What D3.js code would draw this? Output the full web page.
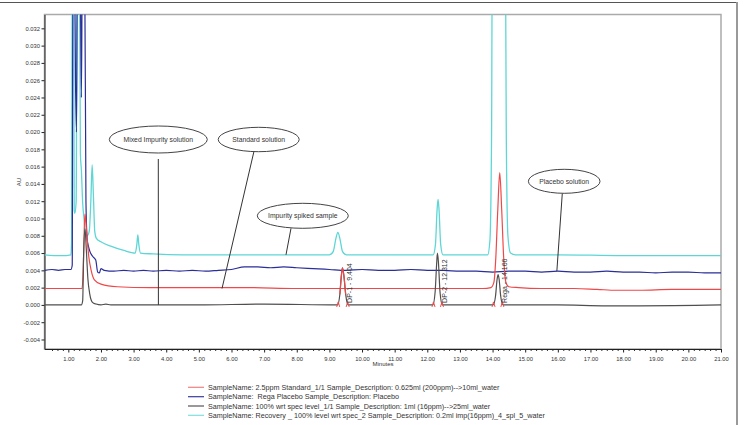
<!DOCTYPE html>
<html><head><meta charset="utf-8">
<script src="https://cdn.jsdelivr.net/npm/d3@7"></script>
<style>body{margin:0;background:#fff;} svg{display:block;font-family:"Liberation Sans",Arial,sans-serif;}</style>
</head><body><svg id="c" width="745" height="425"></svg>
<script>
// ---------- data ----------
const xTickValues = [1,2,3,4,5,6,7,8,9,10,11,12,13,14,15,16,17,18,19,20,21];
const yTickValues = [-0.004,-0.002,0,0.002,0.004,0.006,0.008,0.010,0.012,0.014,0.016,0.018,0.020,0.022,0.024,0.026,0.028,0.030,0.032];

const seriesNames = [
  "SampleName: 2.5ppm Standard_1/1 Sample_Description: 0.625ml (200ppm)-->10ml_water",
  "SampleName:  Rega Placebo Sample_Description: Placebo",
  "SampleName: 100% wrt spec level_1/1 Sample_Description: 1ml (16ppm)-->25ml_water",
  "SampleName: Recovery _ 100% level wrt spec_2 Sample_Description: 0.2ml imp(16ppm)_4_spl_5_water"
];

// [minutes, AU]
const standardSeries = [
  [0.27,0.0019],[0.8,0.0019],[1.2,0.0019],[1.42,0.0019],[1.46,0.0045],[1.49,0.0090],[1.51,0.0105],[1.54,0.0095],
  [1.58,0.0075],[1.63,0.0055],[1.70,0.0040],[1.80,0.0029],[2.0,0.0024],[2.5,0.0021],[3.5,0.0020],[5,0.0020],
  [6.5,0.0020],[8,0.0019],[9.5,0.0019],[11,0.0019],[12.5,0.0019],[13.7,0.0019],[13.95,0.0020],[14.04,0.0026],
  [14.10,0.0055],[14.16,0.0110],[14.22,0.0153],[14.28,0.0110],[14.34,0.0055],[14.41,0.0026],[14.5,0.0021],
  [14.8,0.0020],[15.5,0.0019],[16.5,0.0019],[17.2,0.0018],[17.8,0.0017],[18.5,0.0017],[19.5,0.0018],[21,0.0018]
];

const placeboSeries = [
  [0.27,0.0040],[0.5,0.0041],[0.7,0.0040],[0.9,0.0041],[1.08,0.0041],[1.12,0.0046],[1.14,0.040],[1.19,0.040],
  [1.22,0.026],[1.25,0.020],[1.28,0.040],[1.36,0.040],[1.40,0.024],[1.43,0.040],[1.50,0.040],[1.54,0.012],
  [1.58,0.0075],[1.61,0.0069],[1.66,0.0062],[1.75,0.0056],[1.84,0.0052],[1.90,0.0038],[1.95,0.0037],[2.0,0.0042],
  [2.1,0.0040],[2.4,0.0039],[2.7,0.0040],[3.0,0.0039],[3.3,0.0040],[3.6,0.0039],[4.0,0.0040],[4.4,0.0039],
  [4.8,0.0040],[5.2,0.0039],[5.6,0.0040],[6.0,0.0041],[6.4,0.0044],[6.8,0.0044],[7.2,0.0043],[7.6,0.0044],
  [8.0,0.0043],[8.5,0.0042],[9.0,0.0041],[9.5,0.0040],[10.0,0.0041],[10.5,0.0040],[11,0.0040],[11.5,0.0041],
  [12,0.0040],[12.5,0.0040],[13,0.0039],[13.5,0.0039],[14,0.0038],[14.5,0.0039],[15,0.0039],[15.5,0.0038],
  [16,0.0039],[16.5,0.0038],[17,0.0038],[17.5,0.0039],[18,0.0038],[18.5,0.0038],[19,0.0037],[19.5,0.0038],
  [20,0.0038],[20.5,0.0037],[21,0.0037]
];

const specLevelSeries = [
  [0.27,0.0],[1.0,0.0],[1.40,0.0],[1.44,0.0005],[1.47,0.0060],[1.51,0.0088],[1.55,0.0065],[1.60,0.0030],
  [1.66,0.0012],[1.74,0.0003],[1.85,0.0001],[2.0,0.0],[2.15,0.0001],[2.3,0.0],[5,0.0],[7,0.0001],[9.25,0.0],
  [9.32,0.0012],[9.37,0.0035],[9.40,0.0043],[9.44,0.0035],[9.50,0.0012],[9.58,0.0],[12.17,0.0],[12.24,0.0015],
  [12.29,0.0050],[12.31,0.0060],[12.34,0.0050],[12.39,0.0015],[12.46,0.0],[14.02,0.0],[14.09,0.0010],
  [14.14,0.0030],[14.17,0.0035],[14.20,0.0030],[14.25,0.0010],[14.32,0.0],[16,0.0],[17.5,-0.0001],
  [18.5,-0.0001],[21,0.0]
];

const recoverySeries = [
  [0.27,0.0058],[0.8,0.0057],[1.08,0.0058],[1.10,0.0075],[1.12,0.040],[1.16,0.040],[1.18,0.0110],[1.20,0.0106],
  [1.24,0.0120],[1.27,0.040],[1.34,0.040],[1.37,0.0175],[1.40,0.0156],[1.44,0.0118],[1.48,0.0100],[1.52,0.0085],
  [1.58,0.0080],[1.64,0.0085],[1.69,0.0120],[1.73,0.0162],[1.77,0.0125],[1.81,0.0085],[1.86,0.0077],[2.0,0.0073],
  [2.3,0.0068],[2.7,0.0063],[3.05,0.0060],[3.10,0.0070],[3.13,0.0081],[3.16,0.0070],[3.21,0.0060],[3.6,0.0059],
  [4.5,0.0058],[6,0.0058],[8,0.0058],[9.0,0.0058],[9.12,0.0062],[9.20,0.0077],[9.26,0.0084],[9.32,0.0077],
  [9.40,0.0062],[9.52,0.0058],[12.18,0.0058],[12.25,0.0070],[12.30,0.0110],[12.33,0.0122],[12.36,0.0110],
  [12.41,0.0070],[12.48,0.0058],[13.85,0.0058],[13.92,0.0075],[13.97,0.020],[14.0,0.05],[14.38,0.05],
  [14.42,0.020],[14.47,0.0080],[14.55,0.0060],[14.7,0.0058],[16,0.0058],[18,0.0057],[21,0.0057]
];

const peakNames = ["DP-1 - 9.404","DP-2 - 12.312","Rega - 14.166"];
const peakTimes = [9.404, 12.312, 14.166];
const peakStarts = [9.27, 12.19, 14.03];
const peakEnds = [9.56, 12.45, 14.30];

const calloutTexts = ["Mixed Impurity solution","Standard solution","Impurity spiked sample","Placebo solution"];
const calloutTargets = [[3.76,0.0],[5.71,0.0019],[7.67,0.0058],[15.97,0.0039]];

// ---------- layout ----------
const svg = d3.select("#c");
const L = 44.5, R = 721, T = 14.5, B = 349;
const x = d3.scaleLinear().domain([0.27, 21.0]).range([L, R]);
const y = d3.scaleLinear().domain([-0.0051, 0.0336]).range([B, T]);

// outer frame
svg.append("line").attr("x1",0).attr("x2",737).attr("y1",2.5).attr("y2",2.5).attr("stroke","#555").attr("stroke-width",1);
svg.append("line").attr("x1",737).attr("x2",737).attr("y1",2).attr("y2",425).attr("stroke","#999").attr("stroke-width",2);

// plot frame
svg.append("rect").attr("x",L).attr("y",T).attr("width",R-L).attr("height",B-T)
  .attr("fill","none").attr("stroke","#aaa").attr("stroke-width",1.5);

svg.append("clipPath").attr("id","clip").append("rect").attr("x",L).attr("y",T).attr("width",R-L).attr("height",B-T);

// axes
const minorTicks = d3.range(0.5, 21.0001, 1/6).filter(v => Math.abs(v - Math.round(v)) > 0.01);
svg.append("g").attr("transform",`translate(0,${B})`)
  .call(d3.axisBottom(x).tickValues(minorTicks).tickSize(2).tickFormat(""))
  .call(g => g.select(".domain").remove())
  .call(g => g.selectAll("line").attr("stroke","#333"));
const xAx = svg.append("g").attr("transform",`translate(0,${B})`)
  .call(d3.axisBottom(x).tickValues(xTickValues).tickSize(3.5).tickSizeOuter(0).tickFormat(d => d.toFixed(2)));
xAx.select(".domain").attr("stroke","#222");
xAx.selectAll("line").attr("stroke","#222");
xAx.selectAll("text").attr("font-size",5.8).attr("fill","#333").attr("dy","0.9em")
  .attr("font-family","Liberation Sans, Arial, sans-serif");

const yAx = svg.append("g").attr("transform",`translate(${L},0)`)
  .call(d3.axisLeft(y).tickValues(yTickValues).tickSize(3).tickSizeOuter(0).tickFormat(d => d.toFixed(3)));
yAx.select(".domain").attr("stroke","#222");
yAx.selectAll("line").attr("stroke","#222");
yAx.selectAll("text").attr("font-size",5.8).attr("fill","#333").attr("x",-4.5)
  .attr("font-family","Liberation Sans, Arial, sans-serif");

svg.append("text").attr("x",383).attr("y",366).attr("text-anchor","middle").attr("font-size",6).attr("fill","#333").text("Minutes");
svg.append("text").attr("transform","translate(21,182) rotate(-90)").attr("text-anchor","middle").attr("font-size",6).attr("fill","#333").text("AU");

// series
const line = d3.line().x(d => x(d[0])).y(d => y(d[1])).curve(d3.curveMonotoneX);
const plot = svg.append("g").attr("clip-path","url(#clip)");
const colors = {red:"#f04848", blue:"#2a2e98", gray:"#4f4f4f", cyan:"#5ed6d6"};
plot.append("path").datum(recoverySeries).attr("d",line).attr("fill","none").attr("stroke",colors.cyan).attr("stroke-width",1.3);
plot.append("path").datum(placeboSeries).attr("d",line).attr("fill","none").attr("stroke",colors.blue).attr("stroke-width",1.2);
plot.append("path").datum(standardSeries).attr("d",line).attr("fill","none").attr("stroke",colors.red).attr("stroke-width",1.2);
plot.append("path").datum(specLevelSeries).attr("d",line).attr("fill","none").attr("stroke",colors.gray).attr("stroke-width",1.2);
// integrated DP-1 peak shown in red
plot.append("path").datum(specLevelSeries.filter(d => d[0] >= peakStarts[0] && d[0] <= peakEnds[0]))
  .attr("d",line).attr("fill","none").attr("stroke",colors.red).attr("stroke-width",1.2);

// integration markers
const marks = peakStarts.concat(peakEnds);
plot.selectAll(".mk").data(marks).enter().append("path")
  .attr("d", d => `M${x(d)-1.5},${y(0)+2} L${x(d)},${y(0)-3} L${x(d)+1.5},${y(0)+2}`)
  .attr("fill","none").attr("stroke",colors.red).attr("stroke-width",1);

// peak labels
peakTimes.forEach((t,i) => {
  svg.append("text").attr("transform",`translate(${x(t)+7},${y(0)-2}) rotate(-90)`)
    .attr("dy","0.35em").attr("font-size",7).attr("fill","#333").text(peakNames[i]);
});

// callouts
const calloutEllipses = [[158.3,139.5,49,13.5],[258.7,139.5,40.5,12.2],[302.8,215.8,45.5,12.5],[564.2,181.3,35.8,12]];
const calloutStarts = [[158.3,159],[254,151.2],[291,228.3],[562.3,193.3]];
calloutTexts.forEach((txt,i) => {
  const [cx,cy,rx,ry] = calloutEllipses[i];
  const [tx,ty] = calloutTargets[i];
  svg.append("line").attr("x1",calloutStarts[i][0]).attr("y1",calloutStarts[i][1])
    .attr("x2",x(tx)).attr("y2",y(ty)).attr("stroke","#333").attr("stroke-width",1);
  svg.append("ellipse").attr("cx",cx).attr("cy",cy).attr("rx",rx).attr("ry",ry)
    .attr("fill","#fff").attr("stroke","#444").attr("stroke-width",1);
  svg.append("text").attr("x",cx).attr("y",cy).attr("dy","0.35em").attr("text-anchor","middle")
    .attr("font-size",6.8).attr("fill","#333").text(txt);
});

// legend
const legendColors = ["#f08080","#3a3aa0","#555555","#7fdede"];
const legendY = [387.3,396.7,406,415.3];
seriesNames.forEach((n,i) => {
  svg.append("line").attr("x1",188).attr("x2",204).attr("y1",legendY[i]).attr("y2",legendY[i])
    .attr("stroke",legendColors[i]).attr("stroke-width",1.2);
  svg.append("text").attr("x",208).attr("y",legendY[i]).attr("dy","0.35em").attr("font-size",7.2)
    .attr("fill","#333").attr("xml:space","preserve").style("white-space","pre").text(n);
});
</script></body></html>
